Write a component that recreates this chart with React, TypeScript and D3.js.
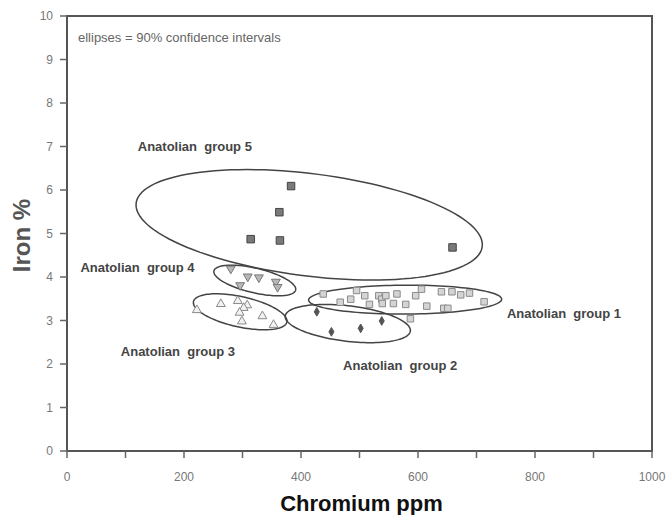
import React from 'react';
import * as d3 from 'd3';

// chromium (ppm) / iron (%) readings per group
const group1 = [
  [438, 3.61], [467, 3.42], [485, 3.49], [495, 3.69], [509, 3.57], [517, 3.37],
  [533, 3.57], [538, 3.49], [545, 3.57], [539, 3.39], [558, 3.39], [564, 3.61],
  [579, 3.37], [596, 3.57], [606, 3.72], [615, 3.33], [640, 3.66], [644, 3.28],
  [651, 3.28], [658, 3.66], [673, 3.59], [688, 3.63], [713, 3.43], [587, 3.04],
];
const group2 = [[427, 3.2], [452, 2.74], [502, 2.82], [538, 2.99]];
const group3 = [
  [263, 3.38], [292, 3.45], [308, 3.35], [302, 3.29], [295, 3.18],
  [299, 2.98], [334, 3.1], [353, 2.9], [222, 3.24],
];
const group4 = [[280, 4.19], [309, 4.01], [328, 3.99], [296, 3.81], [357, 3.89], [360, 3.77]];
const group5 = [[383, 6.09], [363, 5.49], [314, 4.87], [364, 4.84], [659, 4.68]];

// 90% confidence ellipses: centre, half range on each axis, correlation
const groupNames = ['Anatolian  group 1', 'Anatolian  group 2', 'Anatolian  group 3', 'Anatolian  group 4', 'Anatolian  group 5'];
const ellipseCr = [578, 480, 296, 321, 414];
const ellipseFe = [3.48, 2.93, 3.2, 3.92, 5.2];
const ellipseHalfCr = [165, 107, 80, 70, 296];
const ellipseHalfFe = [0.333, 0.44, 0.414, 0.352, 1.27];
const ellipseRho = [0.03, -0.36, -0.51, -0.57, -0.36];
const labelCr = [752, 472, 92, 23, 121];
const labelFe = [3.06, 1.87, 2.18, 4.11, 6.9];

const xTicks = d3.range(0, 1001, 100);
const xTickLabels = [0, 200, 400, 600, 800, 1000];
const yTicks = d3.range(0, 11, 1);

const width = 669;
const height = 515;
const margin = { top: 16, right: 17, bottom: 64, left: 67 };

export default function App() {
  const x = d3.scaleLinear().domain([0, 1000]).range([margin.left, width - margin.right]);
  const y = d3.scaleLinear().domain([0, 10]).range([height - margin.bottom, margin.top]);

  const ellipseLine = d3.line<number[]>().x(d => x(d[0])).y(d => y(d[1])).curve(d3.curveLinearClosed);
  const ellipsePath = (i: number) => {
    const pts = d3.range(0, 2 * Math.PI, Math.PI / 60).map(t => [
      ellipseCr[i] + ellipseHalfCr[i] * Math.cos(t),
      ellipseFe[i] + ellipseHalfFe[i] * (ellipseRho[i] * Math.cos(t) + Math.sqrt(1 - ellipseRho[i] ** 2) * Math.sin(t)),
    ]);
    return ellipseLine(pts) || '';
  };

  const square = (s: number) => d3.symbol().type(d3.symbolSquare).size(s)() || '';
  const tri = d3.symbol().type(d3.symbolTriangle).size(34)() || '';
  const diamond = d3.symbol().type(d3.symbolDiamond).size(22)() || '';

  const series = [
    { pts: group1, path: square(42), fill: '#d4d4d4', stroke: '#8a8a8a', rot: 0 },
    { pts: group2, path: diamond, fill: '#555', stroke: '#555', rot: 0 },
    { pts: group3, path: tri, fill: '#f2f2f2', stroke: '#8a8a8a', rot: 0 },
    { pts: group4, path: tri, fill: '#b8b8b8', stroke: '#777', rot: 180 },
    { pts: group5, path: square(56), fill: '#7a7a7a', stroke: '#444', rot: 0 },
  ];

  const x0 = x(0), x1 = x(1000), y0 = y(0), y1 = y(10);

  return (
    <svg width={width} height={height} style={{ position: 'absolute', left: 0, top: 0, background: '#fff' }}
      fontFamily="'Liberation Sans', Arial, sans-serif">
      {/* frame */}
      <path d={`M${x0},${y0}V${y1}H${x1}V${y0}Z`} fill="none" stroke="#555" strokeWidth={2} />

      {/* y axis ticks */}
      {yTicks.map(t => (
        <g key={'y' + t}>
          <line x1={x0 - 7} x2={x0} y1={y(t)} y2={y(t)} stroke="#666" strokeWidth={1.5} />
          <text x={x0 - 14} y={y(t)} dy="0.35em" textAnchor="end" fontSize={12} fill="#777">{t}</text>
        </g>
      ))}

      {/* x axis ticks */}
      {xTicks.map(t => (
        <line key={'x' + t} x1={x(t)} x2={x(t)} y1={y0} y2={y0 + 7} stroke="#666" strokeWidth={1.5} />
      ))}
      {xTickLabels.map(t => (
        <text key={'xl' + t} x={x(t)} y={y0 + 30} textAnchor="middle" fontSize={12} fill="#777">{t}</text>
      ))}

      <text x={(x0 + x1) / 2 + 2} y={511} textAnchor="middle" fontSize={22} fontWeight="bold" fill="#111">Chromium ppm</text>
      <text transform={`translate(30,${(y0 + y1) / 2 + 2}) rotate(-90)`} textAnchor="middle" fontSize={24} fontWeight="bold" fill="#555">Iron %</text>

      <text x={78} y={42} fontSize={13} fill="#666">ellipses = 90% confidence intervals</text>

      {/* confidence ellipses */}
      {groupNames.map((_, i) => (
        <path key={'e' + i} d={ellipsePath(i)} fill="none" stroke="#444" strokeWidth={1.5} />
      ))}

      {/* points */}
      {series.map((s, i) => (
        <g key={'s' + i}>
          {s.pts.map((p, j) => (
            <path key={j} d={s.path} transform={`translate(${x(p[0])},${y(p[1])}) rotate(${s.rot})`}
              fill={s.fill} stroke={s.stroke} strokeWidth={1} />
          ))}
        </g>
      ))}

      {/* group labels */}
      {groupNames.map((n, i) => (
        <text key={'l' + i} x={x(labelCr[i])} y={y(labelFe[i])} fontSize={13} fontWeight="bold" fill="#444"
          style={{ whiteSpace: 'pre' }}>{n}</text>
      ))}
    </svg>
  );
}
